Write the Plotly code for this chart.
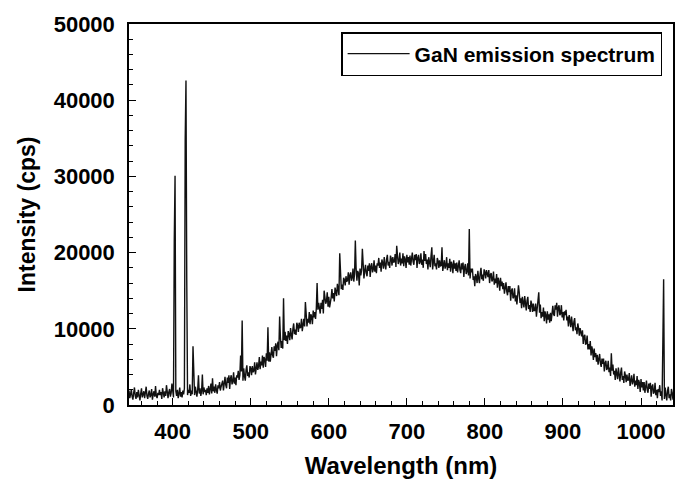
import plotly.graph_objects as go

# GaN emission spectrum, one reading per nanometre starting at 344 nm
wl_start = 344
intensity = [
    # 344-363
    1900, 900, 1400, 2100, 1100, 700, 1600, 2300, 1200, 800, 1700, 1000, 2000, 1300, 600, 1500, 2200, 1000, 1400, 1800,
    # 364-383
    900, 1600, 2400, 1200, 800, 1500, 1900, 1000, 1300, 2100, 700, 1400, 1800, 1100, 2500, 1200, 900, 1600, 1300, 2000,
    # 384-403
    1300, 1700, 800, 2200, 1500, 1000, 1800, 1200, 2600, 1400, 900, 1700, 2100, 1100, 1600, 2800, 1300, 1000, 21600, 30100,
    # 404-423
    1800, 1200, 2000, 900, 1500, 2300, 1100, 1700, 1000, 1900, 1400, 2200, 34800, 42600, 16400, 1300, 2000, 1600, 2700, 1200,
    # 424-443
    1900, 1400, 7700, 2100, 1300, 2400, 1600, 1100, 2000, 3900, 1500, 2200, 1200, 1800, 4000, 1400, 2300, 1700, 2000, 1300,
    # 444-463
    2200, 1600, 2500, 1400, 2100, 2800, 1500, 3500, 1800, 2400, 1600, 2700, 2000, 1500, 2600, 2200, 3000, 1900, 2400, 2900,
    # 464-483
    3200, 1900, 2900, 3700, 2600, 2200, 3600, 2900, 3900, 2100, 3500, 3900, 2700, 3100, 4300, 2800, 3600, 2600, 3900, 3600,
    # 484-503
    4500, 3300, 3900, 6500, 4400, 11100, 3200, 4800, 3800, 3200, 4600, 5200, 3800, 4300, 3600, 5100, 4800, 3900, 5100, 4300,
    # 504-523
    4500, 5600, 4000, 5300, 5600, 4600, 5100, 6300, 4700, 5700, 5200, 6500, 4900, 6300, 6000, 5000, 6800, 5800, 10200, 5700,
    # 524-543
    6900, 5700, 6700, 7600, 6500, 6200, 7700, 7100, 8100, 6400, 7800, 8300, 7200, 11600, 8900, 7500, 8400, 7400, 14000, 8500,
    # 544-563
    9600, 8400, 9100, 8000, 9700, 9300, 8500, 10100, 9200, 8600, 10000, 10700, 9300, 9900, 9200, 10800, 10400, 9600, 10800, 10100,
    # 564-583
    10200, 11300, 9700, 10900, 11300, 10300, 13500, 12000, 10300, 11300, 10800, 12200, 10600, 11900, 11600, 10600, 12400, 11500, 12200, 11300,
    # 584-603
    12700, 16000, 12500, 13400, 12300, 12000, 13400, 12600, 13800, 12000, 15000, 14000, 13300, 13600, 14800, 12900, 14200, 12800, 14000, 14100,
    # 604-623
    15200, 14000, 14700, 13600, 15400, 15000, 14300, 15900, 15000, 14400, 19900, 16600, 15200, 15800, 15100, 16700, 16400, 15700, 16900, 16200,
    # 624-643
    16400, 17400, 15800, 17000, 17400, 16300, 16700, 17900, 16200, 17200, 21600, 17900, 16300, 17600, 17300, 15700, 17900, 17000, 17700, 20500,
    # 644-663
    17900, 16600, 17600, 18400, 17300, 16900, 18300, 17600, 18600, 16800, 18200, 18600, 17400, 17800, 19000, 17500, 18300, 17300, 18600, 18300,
    # 664-683
    19300, 18000, 18700, 17500, 19100, 18700, 17900, 19400, 18400, 17800, 19100, 19700, 18300, 18800, 18000, 19600, 19200, 18300, 19400, 18700,
    # 684-703
    18800, 19800, 18100, 20900, 19600, 18500, 18900, 20000, 18300, 19200, 18600, 19900, 18200, 19500, 19100, 18000, 19700, 18700, 19400, 18400,
    # 704-723
    19600, 18300, 19200, 20000, 18800, 18400, 19700, 19000, 19800, 18000, 19300, 19700, 18500, 18800, 19900, 18400, 19100, 18000, 20200, 18900,
    # 724-743
    19800, 18500, 19100, 17800, 19400, 18900, 18100, 19600, 20700, 17800, 19100, 19700, 18200, 18600, 17800, 19300, 18900, 18000, 19000, 18200,
    # 744-763
    18300, 20700, 17600, 18800, 19000, 17900, 18300, 19400, 17700, 18600, 18000, 19200, 17500, 18800, 18400, 17300, 19000, 17900, 18600, 17600,
    # 764-783
    18700, 17400, 18200, 19000, 17700, 17300, 18600, 17800, 18700, 16800, 18100, 18500, 17200, 17500, 18600, 17000, 23100, 16600, 17900, 17400,
    # 784-803
    17900, 16400, 16900, 15600, 17200, 16800, 16000, 17600, 16600, 16000, 17300, 18000, 16500, 17100, 16300, 17800, 17400, 16600, 17700, 16900,
    # 804-823
    16800, 17700, 16000, 17100, 17300, 16200, 16500, 17500, 15800, 16600, 16000, 17200, 15400, 16700, 16200, 15000, 16700, 15600, 16200, 15200,
    # 824-843
    16000, 14600, 15400, 16100, 14900, 14400, 15600, 14800, 15600, 13700, 15000, 15300, 14000, 14200, 15300, 13600, 14400, 13200, 14400, 15700,
    # 844-863
    14800, 13400, 14000, 12700, 14200, 13700, 12800, 14300, 13200, 12400, 13700, 14200, 12600, 13100, 12200, 13700, 13200, 12200, 13300, 12400,
    # 864-883
    12400, 13300, 11600, 12700, 12900, 14800, 12100, 13200, 11400, 12200, 11600, 12800, 11000, 12300, 11800, 10700, 12300, 11200, 11900, 10800,
    # 884-903
    12100, 11000, 12000, 13000, 11900, 11700, 13100, 12500, 13400, 11600, 12800, 13100, 11800, 12000, 13100, 11500, 12200, 11100, 12300, 11800,
    # 904-923
    12500, 11100, 11600, 10300, 11800, 11200, 10200, 11600, 10500, 9700, 10900, 11400, 9800, 10200, 9300, 10700, 10100, 9100, 10100, 9200,
    # 924-943
    9000, 9800, 8000, 9000, 9200, 7900, 8200, 9100, 7300, 8000, 7300, 8400, 6500, 7700, 7100, 5900, 7400, 6300, 6800, 5700,
    # 944-963
    6600, 5300, 6000, 6700, 5500, 5000, 6100, 5400, 6100, 4400, 5500, 5800, 4600, 4800, 5800, 4300, 4900, 3800, 6800, 4500,
    # 964-983
    5300, 4000, 4500, 3300, 4800, 4300, 3400, 4900, 3800, 3100, 4300, 4900, 3300, 3800, 2900, 4400, 3900, 3000, 4000, 3200,
    # 984-1003
    3300, 4200, 2500, 3600, 3900, 2700, 3100, 4100, 2400, 3200, 2600, 3800, 2100, 3300, 2900, 1700, 3400, 2300, 3000, 1900,
    # 1004-1023
    3000, 1600, 2500, 3200, 2000, 1600, 2800, 2100, 2900, 1100, 2400, 2700, 1500, 1700, 2900, 1300, 2000, 900, 2100, 1700,
    # 1024-1042
    2600, 1200, 1800, 600, 8200, 16500, 800, 2300, 1300, 600, 1900, 2400, 900, 1400, 600, 2100, 1600, 700, 1800,
]
wavelength = [wl_start + i for i in range(len(intensity))]

x_ticks = [400, 500, 600, 700, 800, 900, 1000]
y_ticks = [0, 10000, 20000, 30000, 40000, 50000]
y_tick_labels = ["0", "10000", "20000", "30000", "40000", "50000"]

FONT = "Arial, 'Liberation Sans', sans-serif"

fig = go.Figure()
fig.add_trace(go.Scatter(
    x=wavelength, y=intensity, mode="lines",
    line=dict(color="#111111", width=1.4),
    name="GaN emission spectrum",
))

axis_common = dict(
    showline=True, linecolor="black", linewidth=1.5, mirror=True,
    ticks="inside", ticklen=7, tickcolor="black", tickwidth=1.2,
    showgrid=False, zeroline=False,
    tickfont=dict(family=FONT, size=22, color="black", weight="bold"),
)

fig.update_xaxes(
    range=[344, 1041], tickvals=x_ticks, ticktext=[str(v) for v in x_ticks],
    minor=dict(dtick=20, tick0=400, ticks="inside", ticklen=4, tickcolor="black", tickwidth=1),
    title=dict(text="Wavelength (nm)", font=dict(family=FONT, size=24, color="black", weight="bold"), standoff=14),
    ticklabelstandoff=6,
    **axis_common,
)
fig.update_yaxes(
    range=[0, 50000], tickvals=y_ticks, ticktext=y_tick_labels,
    minor=dict(dtick=2000, tick0=0, ticks="inside", ticklen=4, tickcolor="black", tickwidth=1),
    title=dict(text="Intensity (cps)", font=dict(family=FONT, size=23, color="black", weight="bold"), standoff=12),
    ticklabelstandoff=8,
    **axis_common,
)

fig.update_layout(
    width=676, height=487,
    margin=dict(l=129, r=1, t=24, b=82),
    paper_bgcolor="white", plot_bgcolor="white",
    showlegend=True,
    legend=dict(
        x=0.98, y=0.979, xanchor="right", yanchor="top",
        bgcolor="white", bordercolor="black", borderwidth=1.5,
        font=dict(family=FONT, size=21, color="black", weight="bold"),
        itemwidth=62,
    ),
)

fig.write_html("out.html")
